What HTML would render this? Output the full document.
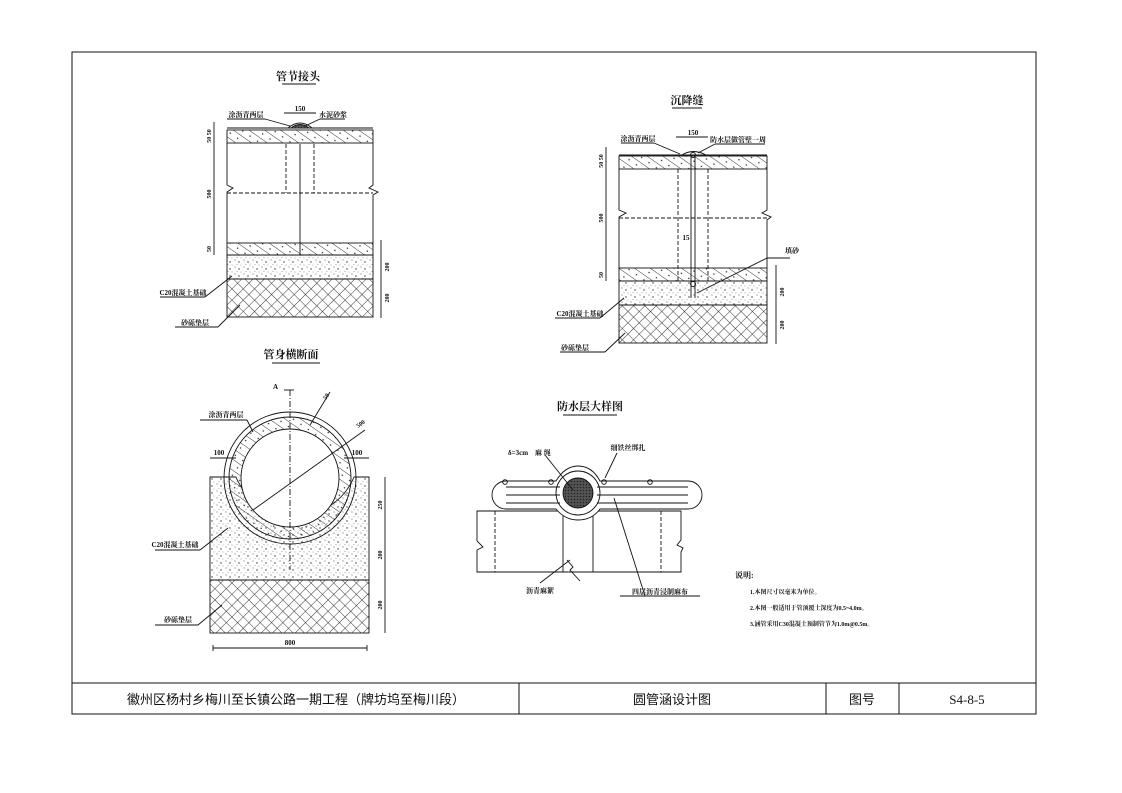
<!DOCTYPE html>
<html><head><meta charset="utf-8"><style>
html,body{margin:0;padding:0;background:#fff;}
svg{display:block;}
text{font-family:"Liberation Serif","Noto Serif CJK SC","Noto Sans CJK SC",serif;fill:#111;}
.t{font-weight:bold;font-size:11px;}
.s{font-weight:bold;font-size:7px;}
.n{font-size:6px;font-weight:bold;}
</style></head><body>
<svg width="1122" height="793" viewBox="0 0 1122 793" xmlns="http://www.w3.org/2000/svg">
<defs>
<pattern id="hat" width="9" height="9" patternUnits="userSpaceOnUse" patternTransform="rotate(-55)">
<line x1="0" y1="0" x2="0" y2="9" stroke="#222" stroke-width="0.9"/>
<circle cx="5" cy="4" r="0.7" fill="#222"/></pattern>
<pattern id="dot" width="9" height="7" patternUnits="userSpaceOnUse">
<circle cx="1" cy="1" r="0.5" fill="#333"/><circle cx="5" cy="3" r="0.7" fill="#333"/><circle cx="7" cy="6" r="0.4" fill="#333"/><circle cx="3" cy="5.5" r="0.4" fill="#333"/></pattern>
<pattern id="xh" width="8" height="8" patternUnits="userSpaceOnUse" patternTransform="rotate(45)">
<line x1="0" y1="0" x2="0" y2="8" stroke="#222" stroke-width="0.9"/><line x1="0" y1="0" x2="8" y2="0" stroke="#222" stroke-width="0.9"/></pattern>
<pattern id="dk" width="3" height="3" patternUnits="userSpaceOnUse"><rect width="3" height="3" fill="#555"/><circle cx="1.5" cy="1.5" r="0.8" fill="#222"/></pattern>
</defs>
<g fill="none" stroke="#111" stroke-width="1">
<rect x="72" y="52" width="964" height="662"/>
<line x1="72" y1="683" x2="1036" y2="683"/>
<line x1="519" y1="683" x2="519" y2="714"/>
<line x1="826" y1="683" x2="826" y2="714"/>
<line x1="899" y1="683" x2="899" y2="714"/>
</g>
<text x="296" y="704" text-anchor="middle" style="font-family:'Liberation Sans','Noto Sans CJK SC',sans-serif;font-size:13px">徽州区杨村乡梅川至长镇公路一期工程（牌坊坞至梅川段）</text>
<text x="672" y="704" text-anchor="middle" style="font-family:'Liberation Sans','Noto Sans CJK SC',sans-serif;font-size:13px">圆管涵设计图</text>
<text x="862" y="704" text-anchor="middle" style="font-family:'Liberation Sans','Noto Sans CJK SC',sans-serif;font-size:13px">图号</text>
<text x="967" y="704" text-anchor="middle" style="font-family:'Liberation Serif',serif;font-size:13px">S4-8-5</text>

<!-- Drawing 1 -->
<text class="t" x="298" y="80" text-anchor="middle">管节接头</text>
<line x1="282" y1="84" x2="316" y2="84" stroke="#111"/>
<g stroke="#111" stroke-width="0.9" fill="none">
<rect x="227" y="130" width="146" height="13" fill="url(#hat)"/>
<line x1="227" y1="128" x2="373" y2="128"/>
<path d="M288 128 Q300 118 312 128" />
<path d="M291 128 Q300 121 309 128" fill="url(#dk)"/>
<path d="M227 143 V185 L233 188 L227 192 V243"/>
<path d="M373 143 V185 L369 188 L378 192 L373 195 V243"/>
<line x1="227" y1="193" x2="373" y2="193" stroke-dasharray="4 2"/>
<line x1="286" y1="144" x2="286" y2="193" stroke-dasharray="4 2"/>
<line x1="314" y1="144" x2="314" y2="193" stroke-dasharray="4 2"/>
<line x1="300" y1="144" x2="300" y2="255"/>
<rect x="227" y="243" width="146" height="12" fill="url(#hat)"/>
<rect x="227" y="255" width="146" height="24" fill="url(#dot)"/>
<rect x="227" y="279" width="146" height="38" fill="url(#xh)"/>
<line x1="214" y1="122" x2="214" y2="255"/>
<line x1="381" y1="240" x2="381" y2="318"/>
<line x1="284" y1="113" x2="316" y2="113"/>
<line x1="265" y1="119" x2="227" y2="119"/><line x1="265" y1="119" x2="290" y2="126"/>
<line x1="320" y1="119" x2="345" y2="119"/><line x1="320" y1="119" x2="305" y2="126"/>
<line x1="160" y1="297" x2="205" y2="297"/><line x1="205" y1="297" x2="232" y2="276"/>
<line x1="175" y1="327" x2="218" y2="327"/><line x1="218" y1="327" x2="240" y2="305"/>
</g>
<text class="s" x="300" y="111" text-anchor="middle">150</text>
<text class="s" x="246" y="117" text-anchor="middle">涂沥青两层</text>
<text class="s" x="333" y="117" text-anchor="middle">水泥砂浆</text>
<text class="s" x="183" y="295" text-anchor="middle">C20混凝土基础</text>
<text class="s" x="195" y="325" text-anchor="middle">砂砾垫层</text>
<text class="n" transform="translate(211,194) rotate(-90)" text-anchor="middle">500</text>
<text class="n" transform="translate(211,136) rotate(-90)" text-anchor="middle">50 50</text>
<text class="n" transform="translate(211,249) rotate(-90)" text-anchor="middle">50</text>
<text class="n" transform="translate(389,267) rotate(-90)" text-anchor="middle">200</text>
<text class="n" transform="translate(389,298) rotate(-90)" text-anchor="middle">200</text>

<!-- Drawing 2 -->
<text class="t" x="687" y="104" text-anchor="middle">沉降缝</text>
<line x1="672" y1="108" x2="702" y2="108" stroke="#111"/>
<g stroke="#111" stroke-width="0.9" fill="none">
<rect x="619" y="156" width="148" height="13" fill="url(#hat)"/>
<line x1="619" y1="155" x2="767" y2="155"/>
<path d="M682 155 Q693 148 706 155"/>
<path d="M619 169 V210 L626 213 L619 217 V268"/>
<path d="M767 169 V210 L762 213 L771 217 L767 220 V268"/>
<line x1="619" y1="218" x2="767" y2="218" stroke-dasharray="4 2"/>
<line x1="678" y1="169" x2="678" y2="281" stroke-dasharray="4 2"/>
<line x1="708" y1="169" x2="708" y2="281" stroke-dasharray="4 2"/>
<line x1="691" y1="155" x2="691" y2="298"/><line x1="695" y1="155" x2="695" y2="298"/>
<circle cx="693" cy="155" r="2.5"/>
<rect x="619" y="268" width="148" height="13" fill="url(#hat)"/>
<rect x="619" y="281" width="148" height="24" fill="url(#dot)"/>
<rect x="619" y="305" width="148" height="38" fill="url(#xh)"/>
<circle cx="693" cy="284" r="2.5"/>
<line x1="606" y1="147" x2="606" y2="281"/>
<line x1="776" y1="265" x2="776" y2="344"/>
<line x1="676" y1="137" x2="708" y2="137"/>
<line x1="654" y1="143" x2="621" y2="143"/><line x1="654" y1="143" x2="680" y2="154"/>
<line x1="715" y1="144" x2="765" y2="144"/><line x1="715" y1="144" x2="698" y2="153"/>
<line x1="767" y1="258" x2="790" y2="258"/><line x1="767" y1="258" x2="697" y2="293"/>
<line x1="555" y1="318" x2="600" y2="318"/><line x1="600" y1="318" x2="624" y2="298"/>
<line x1="560" y1="352" x2="605" y2="352"/><line x1="605" y1="352" x2="625" y2="333"/>
</g>
<text class="s" x="693" y="135" text-anchor="middle">150</text>
<text class="s" x="638" y="141" text-anchor="middle">涂沥青两层</text>
<text class="s" x="738" y="142" text-anchor="middle">防水层做管壁一周</text>
<text class="s" x="792" y="253" text-anchor="middle">填砂</text>
<text class="s" x="686" y="240" text-anchor="middle">15</text>
<text class="s" x="580" y="316" text-anchor="middle">C20混凝土基础</text>
<text class="s" x="575" y="350" text-anchor="middle">砂砾垫层</text>
<text class="n" transform="translate(603,218) rotate(-90)" text-anchor="middle">500</text>
<text class="n" transform="translate(603,161) rotate(-90)" text-anchor="middle">50 50</text>
<text class="n" transform="translate(603,275) rotate(-90)" text-anchor="middle">50</text>
<text class="n" transform="translate(784,292) rotate(-90)" text-anchor="middle">200</text>
<text class="n" transform="translate(784,325) rotate(-90)" text-anchor="middle">200</text>

<!-- Drawing 3 -->
<text class="t" x="291" y="358" text-anchor="middle">管身横断面</text>
<line x1="272" y1="363" x2="320" y2="363" stroke="#111"/>
<g stroke="#111" stroke-width="0.9">
<path d="M210 477 H236 A64 64 0 0 0 354 477 H369 V580 H210 Z" fill="url(#dot)"/>
<rect x="210" y="580" width="159" height="53" fill="url(#xh)"/>
<circle cx="290" cy="478" r="66" fill="none"/>
<circle cx="290" cy="478" r="61" fill="url(#hat)"/>
<circle cx="290" cy="478" r="49" fill="#fff"/>
<line x1="290" y1="390" x2="290" y2="570" stroke-dasharray="6 2 1 2" fill="none"/>
<line x1="284" y1="390" x2="294" y2="390" fill="none"/>
<line x1="253" y1="510" x2="365" y2="430" fill="none"/>
<line x1="310" y1="425" x2="330" y2="392" fill="none"/>
<line x1="210" y1="458" x2="236" y2="458" fill="none"/>
<line x1="344" y1="458" x2="369" y2="458" fill="none"/>
<line x1="213" y1="648" x2="367" y2="648" fill="none"/>
<line x1="213" y1="645" x2="213" y2="651" fill="none"/><line x1="367" y1="645" x2="367" y2="651" fill="none"/>
<line x1="385" y1="477" x2="385" y2="633" fill="none"/>
<line x1="200" y1="420" x2="247" y2="420" fill="none"/><line x1="247" y1="420" x2="253" y2="432" fill="none"/>
<line x1="155" y1="550" x2="200" y2="550" fill="none"/><line x1="200" y1="550" x2="228" y2="528" fill="none"/>
<line x1="155" y1="625" x2="198" y2="625" fill="none"/><line x1="198" y1="625" x2="222" y2="605" fill="none"/>
</g>
<text class="s" x="273" y="389">A</text>
<text class="n" x="326" y="400" transform="rotate(-55 326 400)">50</text>
<text class="n" x="358" y="428" transform="rotate(-35 358 428)">500</text>
<text class="s" x="226" y="417" text-anchor="middle">涂沥青两层</text>
<text class="s" x="219" y="455" text-anchor="middle">100</text>
<text class="s" x="357" y="455" text-anchor="middle">100</text>
<text class="s" x="290" y="645" text-anchor="middle">800</text>
<text class="s" x="175" y="547" text-anchor="middle">C20混凝土基础</text>
<text class="s" x="178" y="622" text-anchor="middle">砂砾垫层</text>
<text class="n" transform="translate(382,505) rotate(-90)" text-anchor="middle">250</text>
<text class="n" transform="translate(382,555) rotate(-90)" text-anchor="middle">200</text>
<text class="n" transform="translate(382,605) rotate(-90)" text-anchor="middle">200</text>

<!-- Drawing 4 -->
<text class="t" x="590" y="410" text-anchor="middle">防水层大样图</text>
<line x1="563" y1="415" x2="617" y2="415" stroke="#111"/>
<g stroke="#111" stroke-width="0.9" fill="none">
<path d="M477 511 H681 V540 L677 545 L683 548 L681 552 V572 H477 V550 L483 547 L477 541 Z" fill="#fff"/>
<line x1="495" y1="511" x2="495" y2="572" stroke-dasharray="4 2"/>
<line x1="661" y1="511" x2="661" y2="572" stroke-dasharray="4 2"/>
<line x1="563" y1="511" x2="563" y2="572"/><line x1="593" y1="511" x2="593" y2="572"/>
<path d="M506 481 H556 Q565 466 578 466 Q592 466 600 481 H688 A14 14 0 0 1 688 509 H600 Q592 520 578 520 Q565 520 556 509 H506 A14 14 0 0 1 506 481 Z" fill="#fff"/>
<path d="M506 487 H560 M597 487 H688 M506 495 H560 M597 495 H688 M506 503 H560 M597 503 H688"/>
<circle cx="578" cy="493" r="22"/>
<circle cx="578" cy="493" r="15" fill="url(#dk)"/>
<circle cx="505" cy="482" r="2.3"/><circle cx="551" cy="482" r="2.3"/><circle cx="604" cy="482" r="2.3"/><circle cx="650" cy="482" r="2.3"/>
<line x1="545" y1="455" x2="573" y2="490"/>
<line x1="617" y1="453" x2="605" y2="478"/>
<line x1="614" y1="498" x2="645" y2="596"/><line x1="620" y1="596" x2="700" y2="596"/>
<line x1="540" y1="583" x2="570" y2="560"/>
<path d="M567 560 L573 567 L570 570 L580 581"/>
</g>
<text class="s" x="508" y="455">δ=3cm</text>
<text class="s" x="535" y="455">麻 绳</text>
<text class="s" x="628" y="450" text-anchor="middle">细铁丝绑扎</text>
<text class="s" x="540" y="593" text-anchor="middle">沥青麻絮</text>
<text class="s" x="660" y="594" text-anchor="middle">四层沥青浸制麻布</text>

<!-- Notes -->
<text class="s" x="735" y="578" style="font-size:8px">说明:</text>
<text class="n" x="750" y="594">1.本图尺寸以毫米为单位。</text>
<text class="n" x="750" y="610">2.本图一般适用于管顶覆土深度为0.5~4.0m。</text>
<text class="n" x="750" y="626">3.涵管采用C30混凝土预制管节为1.0m@0.5m。</text>
</svg>
</body></html>
